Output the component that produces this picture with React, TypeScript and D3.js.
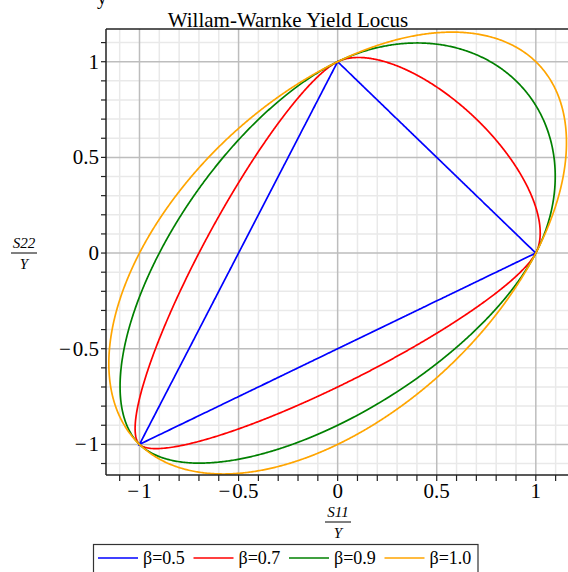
import React from "react";
import * as d3 from "d3";

// ---- data ----
const BETAS: number[] = [0.5, 0.7, 0.9, 1.0];
const SERIES_LABELS: string[] = ["β=0.5", "β=0.7", "β=0.9", "β=1.0"];
const SERIES_COLORS: string[] = ["#0000ff", "#ff0000", "#008000", "#ffa500"];
const MAJOR_TICKS: number[] = [-1, -0.5, 0, 0.5, 1];
const MAJOR_LABELS: string[] = ["−1", "−0.5", "0", "0.5", "1"];
const MINOR_TICKS: number[] = [-1.1, -0.9, -0.8, -0.7, -0.6, -0.4, -0.3, -0.2, -0.1, 0.1, 0.2, 0.3, 0.4, 0.6, 0.7, 0.8, 0.9, 1.1];
const TITLE = "Willam-Warnke Yield Locus";
const X_DOMAIN: [number, number] = [-1.169, 1.17];
const Y_DOMAIN: [number, number] = [-1.16, 1.171];

// Willam-Warnke deviatoric radius, rt = beta * rc
function wwRadius(theta: number, rc: number, rt: number): number {
  const c = Math.cos(theta);
  const a = rc * rc - rt * rt;
  const num = 2 * rc * a * c + rc * (2 * rt - rc) * Math.sqrt(Math.max(0, 4 * a * c * c + 5 * rt * rt - 4 * rt * rc));
  const den = 4 * a * c * c + (rc - 2 * rt) * (rc - 2 * rt);
  return num / den;
}

function locus(beta: number): [number, number][] {
  const rc = Math.sqrt(2 / 3);
  const rt = beta * rc;
  const pts: [number, number][] = [];
  const n = 1440;
  for (let i = 0; i <= n; i++) {
    const al = (i / n) * Math.PI * 2;
    const c = Math.cos(al), s = Math.sin(al);
    const m = (c + s) / 3;
    const d1 = c - m, d2 = s - m, d3 = -m;
    const J2 = 0.5 * (d1 * d1 + d2 * d2 + d3 * d3);
    const J3 = d1 * d2 * d3;
    const rho = Math.sqrt(2 * J2);
    let c3 = -(3 * Math.sqrt(3) / 2) * J3 / Math.pow(J2, 1.5);
    c3 = Math.max(-1, Math.min(1, c3));
    const theta = Math.acos(c3) / 3;
    const r = wwRadius(theta, rc, rt);
    const t = r / rho;
    pts.push([t * c, t * s]);
  }
  return pts;
}

function TickLabel(props: { label: string; x: number; y: number; anchor: string }) {
  const { label, x, y, anchor } = props;
  const neg = label.startsWith("−");
  return (
    <text x={x} y={y} fontSize={21} textAnchor={anchor} fill="#000">
      {neg ? (
        <>
          <tspan>−</tspan>
          <tspan dx={2}>{label.slice(1)}</tspan>
        </>
      ) : (
        label
      )}
    </text>
  );
}

export default function App() {
  const W = 568, H = 572;
  const L = 106, R = 569.5, T = 29, B = 475;
  const x = d3.scaleLinear().domain(X_DOMAIN).range([L, R]);
  const y = d3.scaleLinear().domain(Y_DOMAIN).range([B, T]);
  const line = d3.line<[number, number]>().x((p) => x(p[0])).y((p) => y(p[1]));
  const font = "'Liberation Serif', 'Times New Roman', serif";

  React.useEffect(() => {
    document.body.style.margin = "0";
  }, []);

  return (
    <svg width={W} height={H} style={{ position: "absolute", left: 0, top: 0, background: "#fff" }} fontFamily={font}>
      <defs>
        <clipPath id="plotclip">
          <rect x={L} y={T} width={R - L} height={B - T} />
        </clipPath>
      </defs>
      <text x={97} y={4} fontSize={20} fill="#000">y</text>
      {/* grid */}
      <g>
        {MINOR_TICKS.map((v) => (
          <line key={"gx" + v} x1={x(v)} x2={x(v)} y1={T} y2={B} stroke="#e9e9e9" strokeWidth={1.5} />
        ))}
        {MINOR_TICKS.map((v) => (
          <line key={"gy" + v} y1={y(v)} y2={y(v)} x1={L} x2={R} stroke="#e9e9e9" strokeWidth={1.5} />
        ))}
        {MAJOR_TICKS.map((v) => (
          <line key={"Gx" + v} x1={x(v)} x2={x(v)} y1={T} y2={B} stroke="#bdbdbd" strokeWidth={1.5} />
        ))}
        {MAJOR_TICKS.map((v) => (
          <line key={"Gy" + v} y1={y(v)} y2={y(v)} x1={L} x2={R} stroke="#bdbdbd" strokeWidth={1.5} />
        ))}
      </g>
      {/* curves */}
      <g clipPath="url(#plotclip)">
        {BETAS.map((b, i) => (
          <path key={"c" + b} d={line(locus(b)) || ""} fill="none" stroke={SERIES_COLORS[i]} strokeWidth={1.7} />
        ))}
      </g>
      {/* axes */}
      <line x1={L} x2={R} y1={T} y2={T} stroke="#222" strokeWidth={1.5} />
      <line x1={L} x2={L} y1={T} y2={B} stroke="#222" strokeWidth={1.5} />
      <line x1={L} x2={R} y1={B} y2={B} stroke="#222" strokeWidth={1.5} />
      {[...MAJOR_TICKS, ...MINOR_TICKS].map((v) => (
        <line key={"tx" + v} x1={x(v)} x2={x(v)} y1={B} y2={B + 6} stroke="#222" strokeWidth={1.2} />
      ))}
      {[...MAJOR_TICKS, ...MINOR_TICKS].map((v) => (
        <line key={"ty" + v} y1={y(v)} y2={y(v)} x1={L - 5} x2={L} stroke="#222" strokeWidth={1.2} />
      ))}
      {MAJOR_TICKS.map((v, i) => (
        <TickLabel key={"lx" + v} label={MAJOR_LABELS[i]} x={x(v)} y={498} anchor="middle" />
      ))}
      {MAJOR_TICKS.map((v, i) => (
        <TickLabel key={"ly" + v} label={MAJOR_LABELS[i]} x={99} y={y(v) + 7} anchor="end" />
      ))}
      {/* title */}
      <text x={288} y={27} fontSize={21} textAnchor="middle" fill="#000">{TITLE}</text>
      {/* x label */}
      <g fontStyle="italic" fontSize={15} textAnchor="middle" fill="#000">
        <text x={338} y={517}>S11</text>
        <line x1={325} x2={351} y1={522} y2={522} stroke="#000" strokeWidth={1} />
        <text x={338} y={538}>Y</text>
      </g>
      {/* y label */}
      <g fontStyle="italic" fontSize={15} textAnchor="middle" fill="#000">
        <text x={24} y={248}>S22</text>
        <line x1={11} x2={37} y1={253} y2={253} stroke="#000" strokeWidth={1} />
        <text x={24} y={269}>Y</text>
      </g>
      {/* legend */}
      <rect x={93.5} y={544.5} width={384.5} height={40} fill="#fff" stroke="#333" strokeWidth={1.2} />
      {BETAS.map((b, i) => {
        const ex = 98 + i * 95.5;
        return (
          <g key={"lg" + b}>
            <line x1={ex} x2={ex + 40} y1={558} y2={558} stroke={SERIES_COLORS[i]} strokeWidth={1.7} />
            <text x={ex + 45} y={564} fontSize={18} fill="#000">{SERIES_LABELS[i]}</text>
          </g>
        );
      })}
    </svg>
  );
}
